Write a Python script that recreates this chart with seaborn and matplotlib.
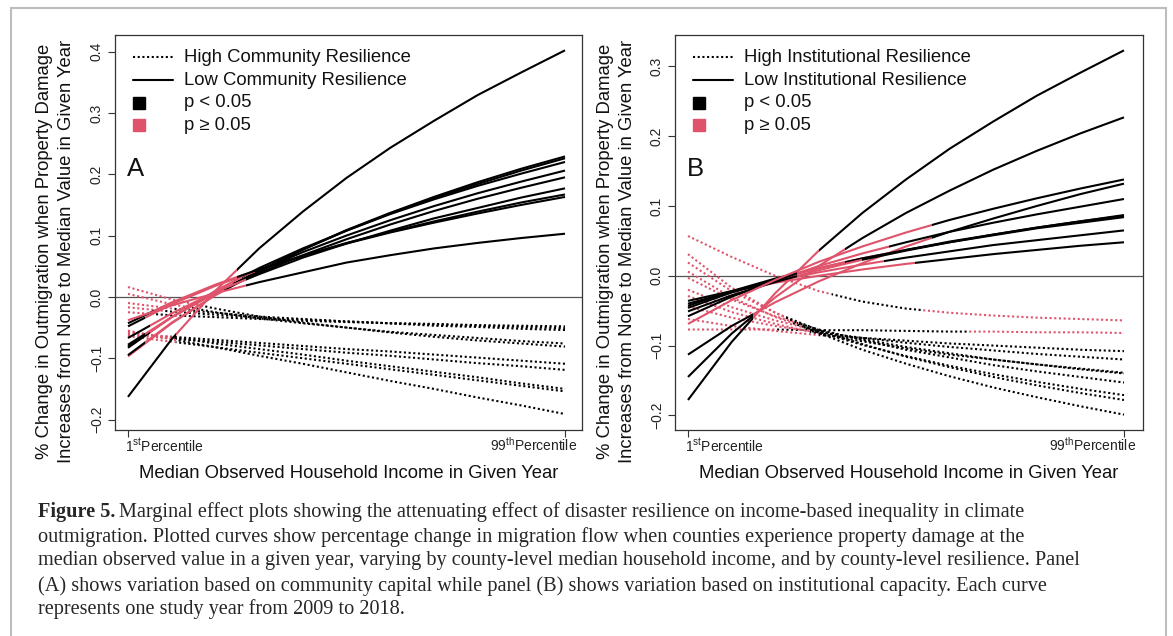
import matplotlib
matplotlib.use("Agg")
import matplotlib.pyplot as plt
from matplotlib.patches import Rectangle
import seaborn as sns

# Income position along the x axis: 0 = 1st percentile, 1 = 99th percentile
X_POS = [0.0, 0.1, 0.2, 0.3, 0.4, 0.5, 0.6, 0.7, 0.8, 0.9, 1.0]

# Panel A - community resilience (one curve per study year)
A_LOW = [
    [-0.163, -0.069, 0.010, 0.079, 0.139, 0.194, 0.243, 0.287, 0.329, 0.366, 0.402],
    [-0.097, -0.043, 0.003, 0.043, 0.077, 0.109, 0.137, 0.163, 0.187, 0.209, 0.229],
    [-0.095, -0.042, 0.003, 0.042, 0.077, 0.108, 0.136, 0.161, 0.184, 0.206, 0.226],
    [-0.083, -0.033, 0.010, 0.047, 0.079, 0.108, 0.135, 0.159, 0.181, 0.201, 0.220],
    [-0.081, -0.033, 0.007, 0.042, 0.073, 0.100, 0.125, 0.148, 0.169, 0.188, 0.206],
    [-0.078, -0.033, 0.006, 0.039, 0.068, 0.094, 0.118, 0.140, 0.160, 0.178, 0.195],
    [-0.067, -0.027, 0.008, 0.037, 0.064, 0.087, 0.108, 0.128, 0.145, 0.162, 0.177],
    [-0.048, -0.012, 0.018, 0.044, 0.067, 0.088, 0.106, 0.123, 0.139, 0.154, 0.167],
    [-0.043, -0.009, 0.020, 0.045, 0.067, 0.087, 0.105, 0.121, 0.136, 0.150, 0.163],
    [-0.038, -0.014, 0.006, 0.024, 0.040, 0.056, 0.068, 0.079, 0.088, 0.096, 0.103],
]
A_LOW_NS = [
    [(0.11, 0.25)], [(0.0, 0.24)], [(0.04, 0.22)], [(0.05, 0.26)], [(0.05, 0.24)],
    [(0.04, 0.22)], [(0.05, 0.27)], [(0.04, 0.29)], [(0.06, 0.25)], [(0.0, 0.27)],
]
A_HIGH = [
    [0.016, -0.004, -0.019, -0.032, -0.042, -0.050, -0.058, -0.065, -0.071, -0.076, -0.081],
    [0.005, -0.012, -0.025, -0.035, -0.043, -0.050, -0.057, -0.062, -0.067, -0.072, -0.076],
    [-0.010, -0.019, -0.026, -0.032, -0.036, -0.040, -0.043, -0.047, -0.049, -0.052, -0.054],
    [-0.017, -0.024, -0.029, -0.034, -0.037, -0.040, -0.043, -0.045, -0.047, -0.049, -0.051],
    [-0.025, -0.030, -0.033, -0.036, -0.039, -0.041, -0.043, -0.044, -0.046, -0.047, -0.048],
    [-0.060, -0.065, -0.070, -0.075, -0.080, -0.085, -0.089, -0.094, -0.099, -0.104, -0.109],
    [-0.062, -0.068, -0.073, -0.079, -0.085, -0.091, -0.096, -0.102, -0.108, -0.113, -0.119],
    [-0.057, -0.066, -0.076, -0.085, -0.094, -0.104, -0.113, -0.122, -0.131, -0.141, -0.150],
    [-0.064, -0.073, -0.082, -0.091, -0.100, -0.109, -0.118, -0.127, -0.136, -0.145, -0.154],
    [-0.055, -0.069, -0.082, -0.096, -0.109, -0.123, -0.137, -0.150, -0.164, -0.177, -0.191],
]
A_HIGH_NS = [
    [(0.0, 0.16)], [(0.0, 0.13)], [(0.0, 0.10)], [(0.0, 0.08)], [(0.0, 0.06)],
    [(0.0, 0.09)], [(0.0, 0.10)], [(0.0, 0.10)], [(0.0, 0.11)], [(0.0, 0.11)],
]

# Panel B - institutional resilience
B_LOW = [
    [-0.178, -0.095, -0.025, 0.036, 0.090, 0.138, 0.182, 0.221, 0.258, 0.291, 0.323],
    [-0.145, -0.083, -0.031, 0.014, 0.054, 0.090, 0.122, 0.152, 0.179, 0.204, 0.227],
    [-0.113, -0.072, -0.038, -0.008, 0.018, 0.042, 0.063, 0.082, 0.100, 0.117, 0.132],
    [-0.036, -0.022, -0.010, 0.000, 0.009, 0.017, 0.024, 0.031, 0.037, 0.043, 0.048],
    [-0.040, -0.023, -0.008, 0.005, 0.016, 0.026, 0.035, 0.044, 0.051, 0.058, 0.065],
    [-0.043, -0.022, -0.004, 0.011, 0.025, 0.037, 0.048, 0.058, 0.068, 0.076, 0.084],
    [-0.046, -0.024, -0.006, 0.011, 0.025, 0.037, 0.049, 0.059, 0.069, 0.078, 0.086],
    [-0.051, -0.028, -0.009, 0.008, 0.023, 0.036, 0.048, 0.059, 0.069, 0.078, 0.087],
    [-0.058, -0.030, -0.007, 0.014, 0.032, 0.048, 0.063, 0.076, 0.088, 0.099, 0.110],
    [-0.069, -0.035, -0.006, 0.020, 0.042, 0.062, 0.080, 0.096, 0.111, 0.125, 0.138],
]
B_LOW_NS = [
    [(0.15, 0.30)], [(0.15, 0.36)], [(0.15, 0.56)], [(0.17, 0.52)], [(0.20, 0.45)],
    [(0.22, 0.50)], [(0.20, 0.36)], [(0.25, 0.40)], [(0.25, 0.46)], [(0.0, 0.56)],
]
B_HIGH = [
    [0.057, 0.027, 0.000, -0.022, -0.037, -0.047, -0.053, -0.057, -0.060, -0.062, -0.064],
    [-0.077, -0.077, -0.077, -0.078, -0.078, -0.079, -0.080, -0.080, -0.081, -0.081, -0.082],
    [0.031, -0.017, -0.053, -0.082, -0.106, -0.126, -0.144, -0.160, -0.174, -0.187, -0.199],
    [0.019, -0.022, -0.053, -0.078, -0.098, -0.116, -0.131, -0.145, -0.157, -0.168, -0.178],
    [0.006, -0.031, -0.059, -0.081, -0.099, -0.115, -0.129, -0.141, -0.152, -0.162, -0.171],
    [-0.003, -0.034, -0.058, -0.077, -0.092, -0.106, -0.117, -0.128, -0.137, -0.145, -0.153],
    [-0.020, -0.045, -0.064, -0.079, -0.091, -0.102, -0.111, -0.120, -0.127, -0.134, -0.140],
    [-0.029, -0.052, -0.069, -0.083, -0.094, -0.104, -0.113, -0.120, -0.127, -0.133, -0.139],
    [-0.044, -0.060, -0.072, -0.081, -0.089, -0.096, -0.102, -0.107, -0.112, -0.116, -0.120],
    [-0.062, -0.072, -0.079, -0.085, -0.089, -0.093, -0.097, -0.100, -0.103, -0.106, -0.108],
]
B_HIGH_NS = [
    [(0.0, 0.33), (0.54, 1.0)], [(0.0, 0.20), (0.64, 1.0)], [(0.0, 0.22)], [(0.0, 0.22)],
    [(0.0, 0.24)], [(0.0, 0.25)], [(0.0, 0.26)], [(0.0, 0.28)], [(0.0, 0.28)], [(0.0, 0.30)],
]

A_YTICKS = [-0.2, -0.1, 0.0, 0.1, 0.2, 0.3, 0.4]
B_YTICKS = [-0.2, -0.1, 0.0, 0.1, 0.2, 0.3]
X_TICK_TEXT = [r"1$^{\mathrm{st}}$Percentile", r"99$^{\mathrm{th}}$Percentile"]
LEGEND_TEXT = {
    "A": ["High Community Resilience", "Low Community Resilience", "p < 0.05", "p \u2265 0.05"],
    "B": ["High Institutional Resilience", "Low Institutional Resilience", "p < 0.05", "p \u2265 0.05"],
}
YLABEL = ["% Change in Outmigration when Property Damage",
          "Increases from None to Median Value in Given Year"]
XLABEL = "Median Observed Household Income in Given Year"
CAPTION = [
    "Marginal effect plots showing the attenuating effect of disaster resilience on income-based inequality in climate",
    "outmigration. Plotted curves show percentage change in migration flow when counties experience property damage at the",
    "median observed value in a given year, varying by county-level median household income, and by county-level resilience. Panel",
    "(A) shows variation based on community capital while panel (B) shows variation based on institutional capacity. Each curve",
    "represents one study year from 2009 to 2018.",
]

BLACK = "#000000"
RED = "#DF536B"
LW = 1.5
DOTTED = (0, (1, 1.25))

sns.set_theme(style="white")
plt.rcParams["font.family"] = ["Liberation Sans", "DejaVu Sans"]
plt.rcParams["mathtext.fontset"] = "custom"
plt.rcParams["mathtext.rm"] = "Liberation Sans"
plt.rcParams["mathtext.it"] = "Liberation Sans:italic"
plt.rcParams["mathtext.bf"] = "Liberation Sans:bold"

W, H = 1173, 636
fig = plt.figure(figsize=(W / 100, H / 100), dpi=100)
fig.patch.set_facecolor("white")


def px_box(left, top, right, bottom):
    return [left / W, 1 - bottom / H, (right - left) / W, (bottom - top) / H]


def draw_curves(ax, curves, ns_spans, style):
    for vals, spans in zip(curves, ns_spans):
        pieces = []
        cur = 0.0
        for a, b in spans:
            if a > cur:
                pieces.append((cur, a, BLACK))
            pieces.append((a, b, RED))
            cur = b
        if cur < 1.0:
            pieces.append((cur, 1.0, BLACK))
        for a, b, col in pieces:
            lo = -0.2 if a <= 0 else a
            hi = 1.2 if b >= 1 else b
            n0 = len(ax.lines)
            sns.lineplot(x=X_POS, y=vals, ax=ax, color=col, linewidth=LW,
                         linestyle=style, estimator=None, sort=False, legend=False)
            clip = Rectangle((lo, -1.0), hi - lo, 2.0, transform=ax.transData)
            for ln in ax.lines[n0:]:
                ln.set_clip_path(clip)
                ln.set_solid_capstyle("butt")
                ln.set_dash_capstyle("butt")
                ln.set_solid_joinstyle("round")


def setup_panel(ax, xlim, ylim, yticks, letter):
    ax.set_xlim(xlim)
    ax.set_ylim(ylim)
    ax.axhline(0, color="#555555", lw=0.9, zorder=0.5)
    ax.set_xticks([0, 1])
    ax.set_xticklabels(["", ""])
    ax.set_yticks(yticks)
    ax.set_yticklabels([f"{t:.1f}".replace("-", "\u2212") for t in yticks],
                       rotation=90, va="center")
    ax.tick_params(axis="both", direction="out", length=5, width=0.8,
                   color="#333333", labelsize=10, labelcolor="#222222",
                   left=True, bottom=True, pad=3)
    for s in ax.spines.values():
        s.set_visible(True)
        s.set_color("#333333")
        s.set_linewidth(0.9)
    ax.set_xlabel("")
    ax.set_ylabel("")
    ax.annotate(X_TICK_TEXT[0], xy=(0, 0), xycoords=("data", "axes fraction"),
                xytext=(-2.2, -15.2), textcoords="offset points",
                ha="left", va="baseline", fontsize=10, color="#222222")
    ax.annotate(X_TICK_TEXT[1], xy=(1, 0), xycoords=("data", "axes fraction"),
                xytext=(8.8, -15.2), textcoords="offset points",
                ha="right", va="baseline", fontsize=10, color="#222222")
    # legend drawn in axes fractions
    labels = LEGEND_TEXT[letter]
    ys = [0.944, 0.886, 0.829, 0.772]
    ax.plot([0.039, 0.124], [ys[0], ys[0]], transform=ax.transAxes, color=BLACK,
            lw=LW, linestyle=DOTTED)
    ax.plot([0.039, 0.124], [ys[1], ys[1]], transform=ax.transAxes, color=BLACK, lw=LW)
    ax.plot([0.051], [ys[2]], transform=ax.transAxes, marker="s", ms=9.2,
            color=BLACK, lw=0)
    ax.plot([0.051], [ys[3]], transform=ax.transAxes, marker="s", ms=9.2,
            color=RED, lw=0)
    for y, t in zip(ys, labels):
        ax.text(0.148, y, t, transform=ax.transAxes, fontsize=13.3,
                va="center", ha="left", color="#111111")
    ax.text(0.026, 0.661, letter, transform=ax.transAxes, fontsize=18.5,
            va="center", ha="left", color="#111111")


axA = fig.add_axes(px_box(115, 35, 582, 430))
axB = fig.add_axes(px_box(675, 35, 1143, 430))

draw_curves(axA, A_HIGH, A_HIGH_NS, DOTTED)
draw_curves(axA, A_LOW, A_LOW_NS, "-")
draw_curves(axB, B_HIGH, B_HIGH_NS, DOTTED)
draw_curves(axB, B_LOW, B_LOW_NS, "-")

setup_panel(axA, (-0.0297, 1.0389), (-0.217, 0.427), A_YTICKS, "A")
setup_panel(axB, (-0.0298, 1.0436), (-0.221, 0.345), B_YTICKS, "B")

# axis titles
for x_l1, x_l2, x_c in [(45, 67, 349), (605, 628, 909)]:
    fig.text(x_l1 / W, 1 - 251 / H, YLABEL[0], rotation=90, ha="center", va="center",
             fontsize=13.3, color="#111111")
    fig.text(x_l2 / W, 1 - 251 / H, YLABEL[1], rotation=90, ha="center", va="center",
             fontsize=13.3, color="#111111")
    fig.text(x_c / W, 1 - 473 / H, XLABEL, ha="center", va="center",
             fontsize=13.3, color="#111111")

# outer frame
fig.add_artist(Rectangle((11 / W, -0.02), (1166 - 11) / W, (1 - 8 / H) + 0.02,
                         transform=fig.transFigure, fill=False,
                         edgecolor="#bdbdbd", linewidth=1.5))

# caption
serif = ["Liberation Serif", "DejaVu Serif"]
cap_size = 14.6
line_y = [512, 537, 561, 586, 609]
renderer = fig.canvas.get_renderer()
head = fig.text(38 / W, 1 - line_y[0] / H, "Figure 5.", family=serif, weight="bold",
                fontsize=cap_size, va="center", ha="left")
bb = head.get_window_extent(renderer)
fig.text((bb.x1 + 4) / W, 1 - line_y[0] / H, CAPTION[0], family=serif,
         fontsize=cap_size, va="center", ha="left")
for y, line in zip(line_y[1:], CAPTION[1:]):
    fig.text(38 / W, 1 - y / H, line, family=serif, fontsize=cap_size,
             va="center", ha="left")

fig.savefig("out.png", dpi=100, facecolor="white")
